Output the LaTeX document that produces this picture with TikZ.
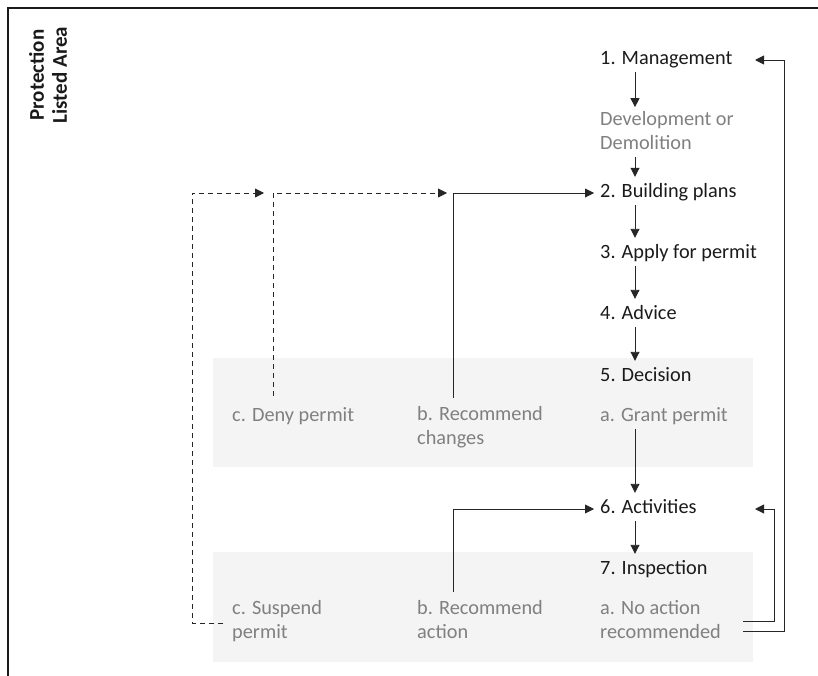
\documentclass[tikz,border=0pt]{standalone}
\usepackage{fontspec}
\setmainfont{Carlito}
\usetikzlibrary{arrows.meta,calc}
\definecolor{panelgray}{HTML}{F4F4F4}
\definecolor{labelgray}{HTML}{808080}
\definecolor{ink}{HTML}{1A1A1A}
\definecolor{wire}{HTML}{262626}
\begin{document}
\begin{tikzpicture}[x=1pt,y=-1pt,
  txt/.style={anchor=west,inner sep=0pt,align=left,text=ink,
    font=\fontsize{20.3}{24}\selectfont,
    execute at begin node=\strut,execute at end node=\strut},
  stage/.style={txt},
  option/.style={txt,text=labelgray},
  wireline/.style={draw=wire,line width=0.9pt},
  flow/.style={wireline,-{Triangle[length=9pt,width=9pt]}},
  back/.style={flow,dash pattern=on 5pt off 4pt},
  panel/.style={fill=panelgray,draw=none}]
\useasboundingbox (0,0) rectangle (818,676);

% outer frame (top and left edges)
\draw[ink,line width=1.3pt] (8,676) -- (8,8) -- (818,8);

% shaded bands for the two decision steps
\fill[panel] (213,358) rectangle (753,467);
\fill[panel] (213,552) rectangle (753,662);

% side heading
\node[rotate=90,align=center,inner sep=0pt,text=ink,
      font=\bfseries\fontsize{21}{23}\selectfont] (area) at (48,75)
  {Protection\\Listed Area};

% main sequence
\node[stage]  (mgmt)     at (600,60)  {1. Management};
\node[option] (dev)      at (600,134) {Development or\\Demolition};
\node[stage]  (build)    at (600,193) {2. Building plans};
\node[stage]  (apply)    at (600,254) {3. Apply for permit};
\node[stage]  (advice)   at (600,315) {4. Advice};
\node[stage]  (decision) at (600,377) {5. Decision};
\node[option] (grant)    at (600,417) {a. Grant permit};
\node[option] (recch)    at (417,429) {b. Recommend\\changes};
\node[option] (deny)     at (232,417) {c. Deny permit};
\node[stage]  (act)      at (600,509) {6. Activities};
\node[stage]  (insp)     at (600,570) {7. Inspection};
\node[option] (noact)    at (600,623) {a. No action\\recommended};
\node[option] (recact)   at (417,623) {b. Recommend\\action};
\node[option] (suspend)  at (232,623) {c. Suspend\\permit};

% columns and rails used by the connectors
\coordinate (spine)      at (635,0);
\coordinate (recCol)     at (453,0);
\coordinate (denyCol)    at (273,0);
\coordinate (suspCol)    at (192,0);
\coordinate (tipDeny)    at (447,0);
\coordinate (tipSusp)    at (264,0);
\coordinate (loopStart)  at (743,0);
\coordinate (innerRail)  at (774,0);
\coordinate (outerRail)  at (784,0);
\coordinate (loopTip)    at (755,0);

% downward flow
\begin{scope}[shorten >=4pt]
\draw[flow] (spine |- mgmt.south)     -- (spine |- dev.north);
\draw[flow] (spine |- dev.south)      -- (spine |- build.north);
\draw[flow] (spine |- build.south)    -- (spine |- apply.north);
\draw[flow] (spine |- apply.south)    -- (spine |- advice.north);
\draw[flow] (spine |- advice.south)   -- (spine |- decision.north);
\draw[flow] (spine |- grant.south)    -- (spine |- act.north);
\draw[flow] (spine |- act.south)      -- (spine |- insp.north);
\end{scope}

% feedback from the decision step
\draw[flow,shorten <=8pt,shorten >=6pt] (recCol |- recch.north) |- (build.west);
\draw[back,shorten <=9pt] (denyCol |- deny.north) |- (tipDeny |- build.center);
\draw[back,shorten <=9pt] (suspend.west) -| (suspCol |- build.center)
  -- (tipSusp |- build.center);

% feedback from the inspection step
\draw[flow,shorten <=8pt,shorten >=6pt] (recCol |- recact.north) |- (act.west);
\draw[flow] ($(loopStart |- noact.center)+(0,-2)$) -| (innerRail |- act.center)
  -- (loopTip |- act.center);
\draw[flow] ($(loopStart |- noact.center)+(0,8)$) -| (outerRail |- mgmt.center)
  -- (loopTip |- mgmt.center);
\end{tikzpicture}
\end{document}
